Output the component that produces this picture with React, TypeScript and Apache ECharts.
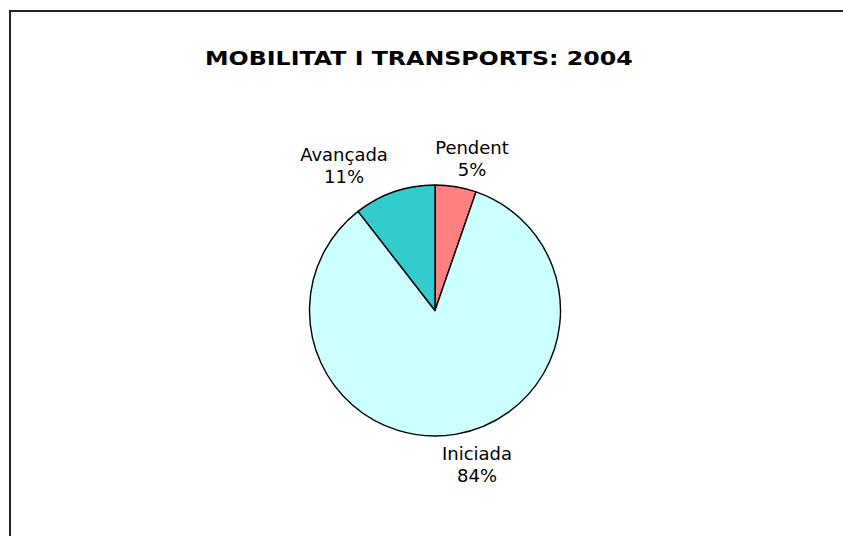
import React, { useEffect, useRef } from "react";
import * as echarts from "echarts";

const TITLE = "MOBILITAT I TRANSPORTS: 2004";
const categories = ["Pendent", "Iniciada", "Avançada"];
const values = [5.3, 84.2, 10.5];
const colors = ["#FF8080", "#CCFFFF", "#33CCCC"];

// label anchor points (layout only)
const labelAnchors: [number, number][] = [
  [472, 158],
  [477, 464],
  [344, 165],
];

export default function App() {
  const ref = useRef<HTMLDivElement>(null);
  useEffect(() => {
    if (!ref.current) return;
    const chart = echarts.init(ref.current, null, { renderer: "svg" });
    chart.setOption({
      animation: false,
      backgroundColor: "#ffffff",
      graphic: [
        {
          type: "line",
          shape: { x1: 10, y1: 10, x2: 10, y2: 560 },
          style: { stroke: "#222", lineWidth: 2 },
          silent: true,
        },
        {
          type: "line",
          shape: { x1: 9, y1: 11, x2: 880, y2: 11 },
          style: { stroke: "#222", lineWidth: 2 },
          silent: true,
        },
        {
          type: "text",
          x: 205,
          y: 58.5,
          scaleX: 1.185,
          style: {
            text: TITLE,
            fill: "#000",
            font: "bold 20px 'DejaVu Sans'",
            align: "left",
            verticalAlign: "middle",
          },
        },
      ],
      series: [
        {
          type: "pie",
          center: [435, 310.5],
          radius: 125.5,
          startAngle: 90,
          clockwise: true,
          percentPrecision: 0,
          data: categories.map((c, i) => ({
            name: c,
            value: values[i],
            itemStyle: { color: colors[i] },
          })),
          itemStyle: { borderColor: "#000", borderWidth: 1.4 },
          label: {
            show: true,
            position: "outside",
            formatter: "{b}\n{d}%",
            fontFamily: "'DejaVu Sans'",
            fontSize: 18,
            lineHeight: 22,
            color: "#000",
            align: "center",
          },
          labelLine: { show: false },
          labelLayout: (params: any) => ({
            x: labelAnchors[params.dataIndex][0],
            y: labelAnchors[params.dataIndex][1],
            align: "center",
            verticalAlign: "middle",
          }),
          emphasis: { disabled: true },
        },
      ],
    });
    return () => chart.dispose();
  }, []);
  return (
    <div
      ref={ref}
      style={{ position: "fixed", left: 0, top: 0, width: 900, height: 560 }}
    />
  );
}
